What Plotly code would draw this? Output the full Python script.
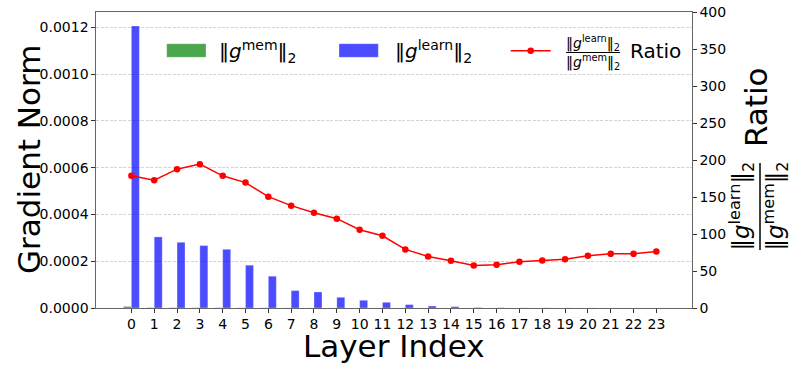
import plotly.graph_objects as go

layers = list(range(24))
tick_labels = [str(i) for i in layers]

g_learn = [0.001206, 0.000304, 0.000281, 0.000267, 0.000251, 0.000183, 0.000136,
           0.0000745, 0.0000685, 0.0000458, 0.000033, 0.0000244, 0.0000146,
           0.0000086, 0.000006, 0.000002, 0.0000012, 0.0000008, 0.0000006,
           0.0000005, 0.0000004, 0.0000003, 0.0000003, 0.0000003]

g_mem = [6.9e-6, 1.76e-6, 1.50e-6, 1.37e-6, 1.41e-6, 1.08e-6, 9.0e-7, 5.4e-7,
         5.3e-7, 3.8e-7, 3.1e-7, 2.5e-7, 1.8e-7, 1.2e-7, 9.4e-8, 3.5e-8, 2.1e-8,
         1.3e-8, 9.3e-9, 7.6e-9, 5.7e-9, 4.1e-9, 4.1e-9, 3.9e-9]

ratio = [178.6, 172.7, 187.6, 194.4, 178.6, 169.5, 150.5, 138.3, 128.8, 120.7,
         105.8, 97.6, 79.2, 69.7, 63.7, 57.5, 58.3, 62.4, 64.3, 66.0, 70.5,
         73.2, 73.2, 76.5]

left_ticks = [0, 0.0002, 0.0004, 0.0006, 0.0008, 0.0010, 0.0012]
right_ticks = [0, 50, 100, 150, 200, 250, 300, 350, 400]

FONT = "DejaVu Sans"
GREEN = "rgba(0,128,0,0.7)"
BLUE = "rgba(0,0,255,0.7)"
AX = "#666666"
EDGE = "rgba(255,255,255,0.6)"

fig = go.Figure()
fig.add_trace(go.Bar(x=layers, y=g_mem, name="mem", marker=dict(color=GREEN, line=dict(color=EDGE, width=0.5)), showlegend=False))
fig.add_trace(go.Bar(x=layers, y=g_learn, name="learn", marker=dict(color=BLUE, line=dict(color=EDGE, width=0.5)), showlegend=False))
fig.add_trace(go.Scatter(x=layers, y=ratio, yaxis="y2", mode="lines+markers",
                         line=dict(color="red", width=1.5),
                         marker=dict(color="red", size=6.5), showlegend=False))

W, H = 793, 368
L, R, T, B = 96, 101, 12, 60
pw, ph = W - L - R, H - T - B

def px(x):
    return (x - L) / pw

def py(y):
    return (H - B - y) / ph

anns = []
shapes = []
# custom legend (matplotlib-style handles)
shapes.append(dict(type="rect", xref="paper", yref="paper", x0=px(166.7), x1=px(206), y0=py(57.3), y1=py(43.7),
                   fillcolor=GREEN, line=dict(width=0.5, color=EDGE)))
shapes.append(dict(type="rect", xref="paper", yref="paper", x0=px(339), x1=px(378.3), y0=py(57.3), y1=py(43.7),
                   fillcolor=BLUE, line=dict(width=0.5, color=EDGE)))
shapes.append(dict(type="line", xref="paper", yref="paper", x0=px(510.7), x1=px(550.7), y0=py(50.7), y1=py(50.7),
                   line=dict(color="red", width=1.5)))
shapes.append(dict(type="circle", xref="paper", yref="paper", x0=px(527.4), x1=px(534), y0=py(54), y1=py(47.4),
                   fillcolor="red", line=dict(color="red", width=0)))
shapes.append(dict(type="line", xref="paper", yref="paper", x0=px(566), x1=px(620), y0=py(52.5), y1=py(52.5),
                   line=dict(color="black", width=1)))

leg_font = dict(family=FONT, size=20, color="black")
anns.append(dict(xref="paper", yref="paper", x=px(217), y=py(51), xanchor="left", yanchor="middle",
                 text="‖<i>g</i><sup>mem</sup>‖<sub>2</sub>", showarrow=False, font=leg_font))
anns.append(dict(xref="paper", yref="paper", x=px(393), y=py(51), xanchor="left", yanchor="middle",
                 text="‖<i>g</i><sup>learn</sup>‖<sub>2</sub>", showarrow=False, font=leg_font))
frac_font = dict(family=FONT, size=14, color="black")
anns.append(dict(xref="paper", yref="paper", x=px(593), y=py(43), xanchor="center", yanchor="middle",
                 text="‖<i>g</i><sup>learn</sup>‖<sub>2</sub>", showarrow=False, font=frac_font))
anns.append(dict(xref="paper", yref="paper", x=px(593), y=py(62), xanchor="center", yanchor="middle",
                 text="‖<i>g</i><sup>mem</sup>‖<sub>2</sub>", showarrow=False, font=frac_font))
anns.append(dict(xref="paper", yref="paper", x=px(628), y=py(51), xanchor="left", yanchor="middle",
                 text="Ratio", showarrow=False, font=leg_font))

# axis titles
big = dict(family=FONT, size=31, color="black")
mid = dict(family=FONT, size=23, color="black")
anns.append(dict(xref="paper", yref="paper", x=0.5, y=py(346), xanchor="center", yanchor="middle",
                 text="Layer Index", showarrow=False, font=big))
anns.append(dict(xref="paper", yref="paper", x=px(29), y=0.5, xanchor="center", yanchor="middle",
                 text="Gradient Norm", textangle=-90, showarrow=False, font=big))
# right axis title (fraction + Ratio)
anns.append(dict(xref="paper", yref="paper", x=px(756), y=py(107), xanchor="center", yanchor="middle",
                 text="Ratio", textangle=-90, showarrow=False, font=big))
anns.append(dict(xref="paper", yref="paper", x=px(740.5), y=py(206), xanchor="center", yanchor="middle",
                 text="‖<i>g</i><sup>learn</sup>‖<sub>2</sub>", textangle=-90, showarrow=False, font=mid))
anns.append(dict(xref="paper", yref="paper", x=px(774.5), y=py(206), xanchor="center", yanchor="middle",
                 text="‖<i>g</i><sup>mem</sup>‖<sub>2</sub>", textangle=-90, showarrow=False, font=mid))
shapes.append(dict(type="line", xref="paper", yref="paper", x0=px(760), x1=px(760), y0=py(163), y1=py(250),
                   line=dict(color="black", width=1.5)))

fig.update_layout(
    template="none",
    width=W, height=H,
    margin=dict(l=L, r=R, t=T, b=B, autoexpand=False),
    paper_bgcolor="white", plot_bgcolor="white",
    barmode="group", bargap=0.3, bargroupgap=0,
    font=dict(family=FONT, size=14, color="black"),
    xaxis=dict(range=[-1.55, 24.56], tickmode="array", tickvals=layers, ticktext=tick_labels,
               automargin=False,
               showline=True, linecolor=AX, linewidth=1.3, mirror=True,
               ticks="outside", ticklen=3.5, tickcolor="#333", showgrid=False, zeroline=False,
               tickfont=dict(size=14)),
    yaxis=dict(range=[0, 0.001266], tickvals=left_ticks,
               automargin=False,
               tickformat=".4f", showline=True, linecolor=AX, linewidth=1.3,
               ticks="outside", ticklen=3.5, tickcolor="#333", zeroline=False,
               showgrid=True, gridcolor="#d4d4d4", griddash="3px,1.5px", gridwidth=0.8,
               tickfont=dict(size=14)),
    yaxis2=dict(range=[0, 400], overlaying="y", side="right", tickvals=right_ticks,
                automargin=False,
                showline=True, linecolor=AX, linewidth=1.3, ticks="outside", ticklen=3.5, tickcolor="#333",
                showgrid=False, zeroline=False, tickfont=dict(size=14)),
    annotations=anns, shapes=shapes,
)

fig.write_html("out.html", config={"displayModeBar": False},
               post_script="document.body.style.margin='0';document.body.style.overflow='hidden';")
